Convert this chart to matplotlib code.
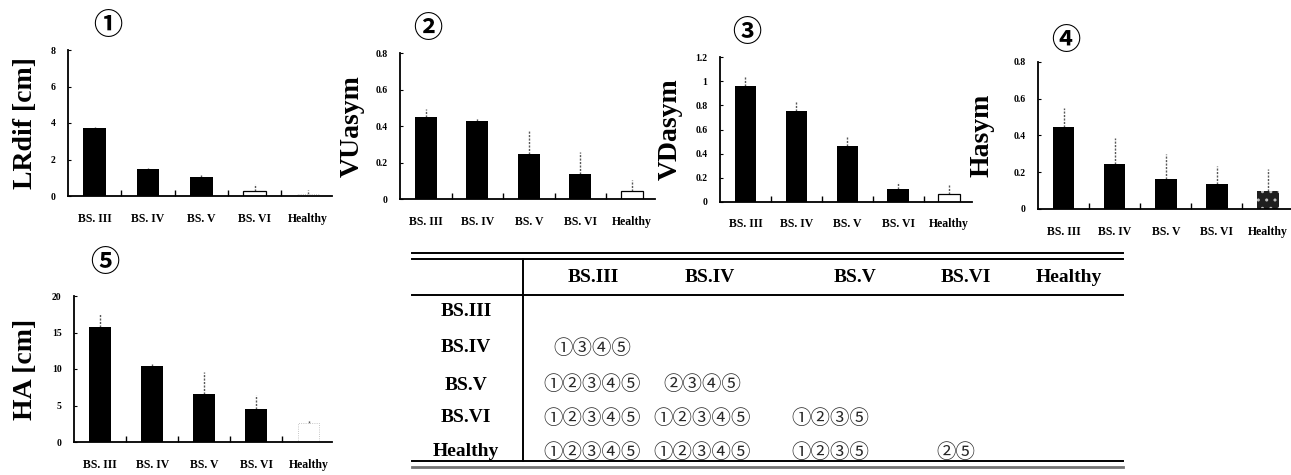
import matplotlib
matplotlib.use("Agg")
import matplotlib.pyplot as plt

# --- dados ---
grupos = ["BS. III", "BS. IV", "BS. V", "BS. VI", "Healthy"]

lrdif = [3.72, 1.48, 1.05, 0.30, 0.10]
lrdif_err = [0.05, 0.03, 0.12, 0.35, 0.25]

vuasym = [0.449, 0.430, 0.247, 0.139, 0.047]
vuasym_err = [0.046, 0.015, 0.13, 0.12, 0.06]

vdasym = [0.964, 0.756, 0.466, 0.103, 0.061]
vdasym_err = [0.08, 0.08, 0.075, 0.06, 0.08]

hasym = [0.447, 0.243, 0.161, 0.136, 0.100]
hasym_err = [0.10, 0.14, 0.136, 0.10, 0.115]

ha = [15.7, 10.47, 6.6, 4.5, 2.6]
ha_err = [1.9, 0.2, 3.0, 2.0, 0.4]

paineis = ["①", "②", "③", "④", "⑤"]
ylabels = ["LRdif [cm]", "VUasym", "VDasym", "Hasym", "HA [cm]"]

# tabela de diferenças significativas
tab_cols = ["BS.III", "BS.IV", "BS.V", "BS.VI", "Healthy"]
tab_rows = ["BS.III", "BS.IV", "BS.V", "BS.VI", "Healthy"]
tab_cells = [
    ["", "", "", "", ""],
    ["①③④⑤", "", "", "", ""],
    ["①②③④⑤", "②③④⑤", "", "", ""],
    ["①②③④⑤", "①②③④⑤", "①②③⑤", "", ""],
    ["①②③④⑤", "①②③④⑤", "①②③⑤", "②⑤", ""],
]

W, H = 1291, 475
SERIF = "Liberation Serif"
CIRC = ["Noto Sans CJK JP", "DejaVu Sans"]


def px(x, y):
    return x / W, 1 - y / H


def barra(ax, valores, erros, ymax, yticks, ytlabels, estilos):
    xs = range(len(valores))
    for x, v, e, st in zip(xs, valores, erros, estilos):
        eb = ax.errorbar(x, v, yerr=[[0], [e]], fmt="none", ecolor="0.35",
                         elinewidth=1.0, capsize=0, zorder=1)
        eb[2][0].set_linestyle((0, (1.5, 1)))
        if st == "black":
            ax.bar(x, v, width=0.42, color="black", zorder=2)
        elif st == "white":
            ax.bar(x, v, width=0.42, facecolor="white", edgecolor="black",
                   linewidth=0.9, zorder=2)
        elif st == "faint":
            ax.bar(x, v, width=0.42, facecolor="white", edgecolor="0.7",
                   linewidth=0.6, linestyle=":", zorder=2)
        elif st == "dots":
            ax.bar(x, v, width=0.42, facecolor="0.12", edgecolor="0.75",
                   hatch="..", linewidth=0, zorder=2)
    ax.set_xlim(-0.5, 4.45)
    ax.set_ylim(0, ymax)
    ax.spines[["top", "right"]].set_visible(False)
    ax.spines[["left", "bottom"]].set_linewidth(1.3)
    ax.set_xticks(list(xs))
    ax.set_xticklabels(grupos, fontfamily=SERIF, fontweight="bold", fontsize=8.5)
    ax.set_xticks([0.5, 1.5, 2.5, 3.5], minor=True)
    ax.tick_params(axis="x", which="major", length=0, pad=12)
    ax.tick_params(axis="x", which="minor", direction="in", length=4, width=1)
    ax.set_yticks(yticks)
    ax.set_yticklabels(ytlabels, fontfamily=SERIF, fontweight="bold", fontsize=7)
    ax.tick_params(axis="y", direction="in", length=2, width=0.8, pad=9)


fig = plt.figure(figsize=(W / 100, H / 100), dpi=100)

# posições em pixels: esquerda, direita, y do zero, y do topo
posicoes = [
    (68, 332, 196, 50),
    (400, 655, 199.3, 53.3),
    (720, 972, 201.7, 57.3),
    (1038, 1291, 209, 61.7),
    (74, 332, 442, 296),
]
dados = [
    (lrdif, lrdif_err, 8, [0, 2, 4, 6, 8], ["0", "2", "4", "6", "8"],
     ["black", "black", "black", "white", "faint"]),
    (vuasym, vuasym_err, 0.8, [0, 0.2, 0.4, 0.6, 0.8], ["0", "0.2", "0.4", "0.6", "0.8"],
     ["black", "black", "black", "black", "white"]),
    (vdasym, vdasym_err, 1.2, [0, 0.2, 0.4, 0.6, 0.8, 1.0, 1.2],
     ["0", "0.2", "0.4", "0.6", "0.8", "1", "1.2"],
     ["black", "black", "black", "black", "white"]),
    (hasym, hasym_err, 0.8, [0, 0.2, 0.4, 0.6, 0.8], ["0", "0.2", "0.4", "0.6", "0.8"],
     ["black", "black", "black", "black", "dots"]),
    (ha, ha_err, 20, [0, 5, 10, 15, 20], ["0", "5", "10", "15", "20"],
     ["black", "black", "black", "black", "faint"]),
]
# centro do rótulo y (px) e do número do painel (px)
ylab_x = [26, 352, 670, 982, 26]
num_pos = [(108, 25), (428, 28), (747, 32), (1066, 40), (105, 262)]

for i, ((l, r, y0, yt), d) in enumerate(zip(posicoes, dados)):
    ax = fig.add_axes([l / W, 1 - y0 / H, (r - l) / W, (y0 - yt) / H])
    barra(ax, *d)
    ax.set_ylabel(ylabels[i], fontfamily=SERIF, fontweight="bold", fontsize=20,
                  va="center")
    ax.yaxis.set_label_coords((ylab_x[i] - l) / (r - l), 0.5)
    fx, fy = px(*num_pos[i])
    fig.text(fx, fy, paineis[i], family=CIRC, fontsize=21, fontweight="bold",
             ha="center", va="center")

# --- tabela ---
tx0, tx1 = 412, 1123
linhas_h = [(253, 1.4, "black"), (259, 1.4, "black"), (295, 1.4, "black"),
            (461, 1.4, "black"), (467, 2.0, "0.45")]
for y, lw, c in linhas_h:
    fig.add_artist(plt.Line2D([tx0 / W, tx1 / W], [1 - y / H, 1 - y / H],
                              color=c, linewidth=lw))
fig.add_artist(plt.Line2D([523 / W, 523 / W], [1 - 259 / H, 1 - 461 / H],
                          color="black", linewidth=1.4))

col_x = [593, 710, 855, 966, 1069]
cell_x = [592, 702, 830, 956, 1069]
row_y = [312, 348, 385, 418, 452]
row_lbl_x = 466
head_y = 277

for c, x in zip(tab_cols, col_x):
    fx, fy = px(x, head_y)
    fig.text(fx, fy, c, fontfamily=SERIF, fontweight="bold", fontsize=14,
             ha="center", va="center")
for j, (rl, y) in enumerate(zip(tab_rows, row_y)):
    fx, fy = px(row_lbl_x, y)
    fig.text(fx, fy, rl, fontfamily=SERIF, fontweight="bold", fontsize=14,
             ha="center", va="center")
    for k, txt in enumerate(tab_cells[j]):
        if txt:
            fx, fy = px(cell_x[k], y)
            fig.text(fx, fy, txt, family=CIRC, fontsize=14, color="0.15",
                     ha="center", va="center")

fig.savefig("out.png", dpi=100, facecolor="white")
